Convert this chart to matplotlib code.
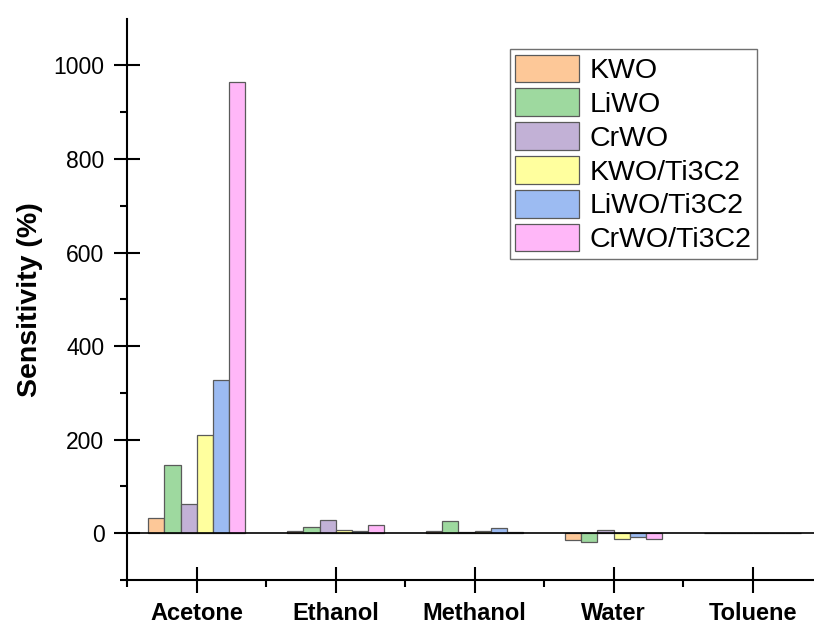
import matplotlib
matplotlib.use("Agg")
import matplotlib.pyplot as plt
import numpy as np

plt.rcParams['font.family'] = ['Liberation Sans', 'DejaVu Sans']

gases = ["Acetone", "Ethanol", "Methanol", "Water", "Toluene"]
materials = ["KWO", "LiWO", "CrWO", "KWO/Ti3C2", "LiWO/Ti3C2", "CrWO/Ti3C2"]
kwo = [32, 4, 4, -15, 0]
liwo = [145, 13, 27, -18, 0]
crwo = [62, 28, 3, 6, 1.5]
kwo_ti = [210, 6, 4, -13, 1.5]
liwo_ti = [327, 4, 12, -8, 0]
crwo_ti = [964, 18, 2, -13, 0]
series = [kwo, liwo, crwo, kwo_ti, liwo_ti, crwo_ti]
colors = ["#FDC898", "#9ED99F", "#C2B1D6", "#FFFF9E", "#9CBBF2", "#FFB7F8"]

fig = plt.figure(figsize=(8.14, 6.23), dpi=100)
ax = fig.add_axes([0.1564, 0.069, 0.8535, 0.901])

x = np.arange(len(gases))
w = 0.7 / len(series)
for i, (vals, c, name) in enumerate(zip(series, colors, materials)):
    ax.bar(x + (i - 2.5) * w, vals, w, color=c, edgecolor="#5a5a5a",
           linewidth=0.9, label=name, zorder=3)

ax.axhline(0, color="black", linewidth=1.2, zorder=4)

ax.set_xlim(-0.5, 4.5)
ax.set_ylim(-100, 1100)
ax.set_xticks(x)
ax.set_xticklabels(gases, fontsize=17, fontweight="bold")
ax.set_xticks(np.arange(-0.5, 5, 1), minor=True)
ax.set_yticks([0, 200, 400, 600, 800, 1000])
ax.set_yticks(np.arange(-100, 1100, 200), minor=True)
ax.tick_params(axis="y", labelsize=16.5)
ax.tick_params(which="major", direction="inout", length=19, width=1.5, pad=7)
ax.tick_params(which="minor", direction="out", length=5, width=1.5)
ax.tick_params(axis="x", which="major", pad=6)

for s in ["top", "right"]:
    ax.spines[s].set_visible(False)
for s in ["left", "bottom"]:
    ax.spines[s].set_linewidth(1.5)

ax.set_ylabel("Sensitivity (%)", fontsize=20.5, fontweight="bold")
ax.yaxis.set_label_coords(-0.121, 0.5)

ax.legend(loc="upper right", bbox_to_anchor=(757 / 814, 1 - 49 / 623),
          bbox_transform=fig.transFigure, borderaxespad=0, fontsize=20.5,
          handlelength=2.25, handleheight=1.12, labelspacing=0.15,
          handletextpad=0.35, borderpad=0.2, fancybox=False,
          edgecolor="#707070", framealpha=1)

fig.savefig("out.png", dpi=100)
